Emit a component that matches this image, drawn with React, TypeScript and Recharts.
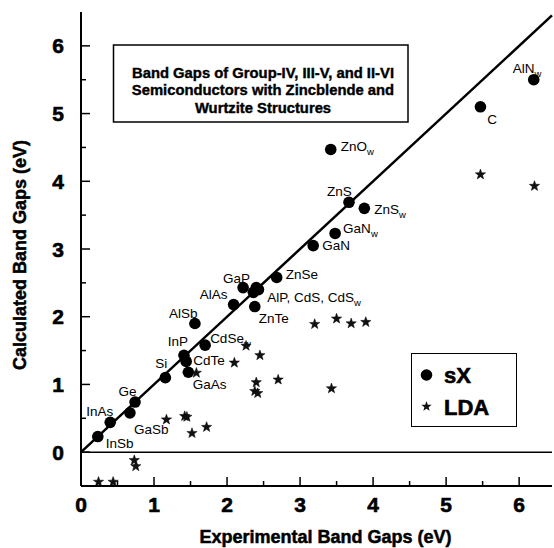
import { ScatterChart, Scatter, XAxis, YAxis, ReferenceLine, Legend, Customized } from 'recharts'

const FONT = '"Liberation Sans", Arial, Helvetica, sans-serif'

// sX (screened exchange) results
const SX_NAMES = [
  'InSb', 'InAs', 'GaSb', 'Ge', 'Si', 'InP', 'CdTe', 'GaAs', 'AlSb', 'CdSe_w', 'AlAs', 'GaP',
  'AlP', 'CdS', 'CdS_w', 'ZnTe', 'ZnSe', 'GaN', 'GaN_w', 'ZnS', 'ZnS_w', 'ZnO_w', 'C', 'AlN_w',
]
const SX_EXP = [
  0.23, 0.4, 0.67, 0.74, 1.155, 1.41, 1.44, 1.47, 1.56, 1.7, 2.09, 2.22,
  2.36, 2.4, 2.43, 2.38, 2.68, 3.18, 3.48, 3.67, 3.88, 3.42, 5.47, 6.2,
]
const SX_CALC = [
  0.23, 0.44, 0.58, 0.74, 1.1, 1.43, 1.34, 1.18, 1.9, 1.58, 2.18, 2.43,
  2.36, 2.43, 2.4, 2.15, 2.58, 3.05, 3.23, 3.69, 3.6, 4.47, 5.1, 5.5,
]

// LDA results
const LDA_EXP = [
  0.24, 0.44, 0.73, 0.75, 1.17, 1.42, 1.45, 1.52, 1.72, 1.58, 2.1, 2.26,
  2.45, 2.4, 2.38, 2.42, 2.7, 3.43, 3.2, 3.5, 3.7, 3.9, 5.47, 6.21,
]
const LDA_CALC = [
  -0.44, -0.44, -0.12, -0.21, 0.48, 0.53, 0.52, 0.28, 0.37, 1.17, 1.32, 1.57,
  1.43, 1.03, 0.9, 0.87, 1.07, 0.94, 1.89, 1.97, 1.9, 1.92, 4.1, 3.93,
]

const X_TICKS = [0, 0.5, 1, 1.5, 2, 2.5, 3, 3.5, 4, 4.5, 5, 5.5, 6]
const Y_TICKS = [0, 0.5, 1, 1.5, 2, 2.5, 3, 3.5, 4, 4.5, 5, 5.5, 6]

const TITLE_LINES = [
  'Band Gaps of Group-IV, III-V, and II-VI',
  'Semiconductors with Zincblende and',
  'Wurtzite Structures',
]

const sxData = SX_NAMES.map((name, i) => ({ name, x: SX_EXP[i], y: SX_CALC[i] }))
const ldaData = LDA_EXP.map((x, i) => ({ x, y: LDA_CALC[i] }))

// where each point label sits relative to its marker
const LABELS: Record<string, { dx: number; dy: number; anchor: string; text?: string }> = {
  InSb: { dx: 8, dy: 7, anchor: 'start' },
  InAs: { dx: 3, dy: -11, anchor: 'end' },
  GaSb: { dx: 4, dy: 16, anchor: 'start' },
  Ge: { dx: -7.5, dy: -11, anchor: 'middle' },
  Si: { dx: -4, dy: -14, anchor: 'middle' },
  InP: { dx: -6, dy: -14, anchor: 'middle' },
  CdTe: { dx: 7, dy: -1, anchor: 'start' },
  GaAs: { dx: 4.5, dy: 12, anchor: 'start' },
  AlSb: { dx: 2.5, dy: -10, anchor: 'end' },
  CdSe_w: { dx: 5, dy: -7, anchor: 'start' },
  AlAs: { dx: -6, dy: -10, anchor: 'end' },
  GaP: { dx: -6.6, dy: -9, anchor: 'middle' },
  CdS: { dx: 11, dy: 9.5, anchor: 'start', text: 'AlP, CdS, CdS_w' },
  ZnTe: { dx: 4, dy: 12, anchor: 'start' },
  ZnSe: { dx: 9, dy: -3, anchor: 'start' },
  GaN: { dx: 9, dy: 0, anchor: 'start' },
  GaN_w: { dx: 8, dy: -5, anchor: 'start' },
  ZnS: { dx: -9.5, dy: -11, anchor: 'middle' },
  ZnS_w: { dx: 10, dy: 0.5, anchor: 'start' },
  ZnO_w: { dx: 10, dy: -3, anchor: 'start' },
  C: { dx: 6.7, dy: 12, anchor: 'start' },
  AlN_w: { dx: 7.7, dy: -11.7, anchor: 'end' },
}

function starPoints(cx: number, cy: number, R: number, r: number) {
  const pts: string[] = []
  for (let i = 0; i < 10; i++) {
    const rad = i % 2 === 0 ? R : r
    const a = -Math.PI / 2 + (i * Math.PI) / 5
    pts.push(`${cx + rad * Math.cos(a)},${cy + rad * Math.sin(a)}`)
  }
  return pts.join(' ')
}

// heavy bold look of the original print
const heavy = { fontWeight: 'bold', stroke: '#000', strokeWidth: 0.6 } as const

const SxShape = (props: any) => {
  const { cx, cy, payload } = props
  const lab = LABELS[payload.name]
  let label = null
  if (lab) {
    const [main, sub] = (lab.text ?? payload.name).split('_')
    label = (
      <text
        x={cx + lab.dx}
        y={cy + lab.dy + 4.8}
        textAnchor={lab.anchor as any}
        fontSize={13.5}
        fontFamily={FONT}
        fill="#000"
      >
        {main}
        {sub && (
          <tspan dy={4} fontSize={9.5}>
            {sub}
          </tspan>
        )}
      </text>
    )
  }
  return (
    <g>
      <circle cx={cx} cy={cy} r={5.8} fill="#000" />
      {label}
    </g>
  )
}

const StarShape = (props: any) => {
  const { cx, cy } = props
  return <polygon points={starPoints(cx, cy, 5.4, 2.2)} fill="#111" stroke="#000" strokeWidth={0.5} />
}

const tickLen = (v: number) => (Number.isInteger(v) ? 9 : 5)

const BottomTick = ({ x, y, payload }: any) => {
  const v = payload.value
  return (
    <g>
      <line x1={x} x2={x} y1={y} y2={y - tickLen(v)} stroke="#000" strokeWidth={1.5} />
      {Number.isInteger(v) && (
        <text x={x} y={y + 26} textAnchor="middle" fontSize={21} fontFamily={FONT} {...heavy}>
          {v}
        </text>
      )}
    </g>
  )
}

const LeftTick = ({ x, y, payload }: any) => {
  const v = payload.value
  return (
    <g>
      <line x1={x} x2={x + tickLen(v)} y1={y} y2={y} stroke="#000" strokeWidth={1.5} />
      {Number.isInteger(v) && (
        <text x={x - 17} y={y + 7.5} textAnchor="end" fontSize={21} fontFamily={FONT} {...heavy}>
          {v}
        </text>
      )}
    </g>
  )
}

const TopTick = ({ x, y, payload }: any) => (
  <line x1={x} x2={x} y1={y} y2={y + tickLen(payload.value)} stroke="#000" strokeWidth={1.5} />
)

const RightTick = ({ x, y, payload }: any) => (
  <line x1={x} x2={x - tickLen(payload.value)} y1={y} y2={y} stroke="#000" strokeWidth={1.5} />
)

const Annotations = () => (
  <g fontFamily={FONT} fill="#000">
    <rect x={113.5} y={45} width={294.5} height={77} fill="#fff" stroke="#000" strokeWidth={1.5} />
    {TITLE_LINES.map((t, i) => (
      <text key={t} x={263} y={78 + i * 17.3} textAnchor="middle" fontSize={14.8} {...heavy} strokeWidth={0.4}>
        {t}
      </text>
    ))}
    <text x={325.5} y={542.5} textAnchor="middle" fontSize={18} {...heavy} strokeWidth={0.5}>
      Experimental Band Gaps (eV)
    </text>
    <text
      x={26}
      y={255}
      transform="rotate(-90, 26, 255)"
      textAnchor="middle"
      fontSize={18}
      {...heavy}
      strokeWidth={0.5}
    >
      Calculated Band Gaps (eV)
    </text>
  </g>
)

const LegendBox = ({ payload }: any) => (
  <div style={{ width: 106, height: 74, border: '1.5px solid #000', background: '#fff', boxSizing: 'border-box' }}>
    <svg width={103} height={71} style={{ display: 'block' }}>
      {(payload || []).map((entry: any) => {
        const isSx = entry.value === 'sX'
        const cy = isSx ? 21 : 52.5
        return (
          <g key={entry.value}>
            {isSx ? (
              <circle cx={14.5} cy={cy} r={5.8} fill="#000" />
            ) : (
              <polygon points={starPoints(14.5, cy, 5.4, 2.2)} fill="#111" />
            )}
            <text x={32} y={cy + 8} fontSize={22} fontFamily={FONT} {...heavy}>
              {entry.value}
            </text>
          </g>
        )
      })}
    </svg>
  </div>
)

export default function App() {
  return (
    <div style={{ position: 'absolute', left: 0, top: 0, width: 554, height: 548, background: '#fff' }}>
      <ScatterChart width={554} height={548} margin={{ top: 12, right: 2, bottom: 0, left: 0 }}>
        <XAxis
          type="number"
          dataKey="x"
          domain={[0, 6.45]}
          allowDataOverflow
          ticks={X_TICKS}
          interval={0}
          height={62}
          tickSize={0}
          tickMargin={0}
          tickLine={false}
          tick={<BottomTick />}
          axisLine={{ stroke: '#000', strokeWidth: 2 }}
        />
        <XAxis
          xAxisId="top"
          orientation="top"
          type="number"
          domain={[0, 6.45]}
          allowDataOverflow
          ticks={X_TICKS}
          interval={0}
          height={0}
          tickSize={0}
          tickMargin={0}
          tickLine={false}
          tick={<TopTick />}
          axisLine={{ stroke: '#000', strokeWidth: 2 }}
        />
        <YAxis
          type="number"
          dataKey="y"
          domain={[-0.5, 6.5]}
          allowDataOverflow
          ticks={Y_TICKS}
          interval={0}
          width={81}
          tickSize={0}
          tickMargin={0}
          tickLine={false}
          tick={<LeftTick />}
          axisLine={{ stroke: '#000', strokeWidth: 2 }}
        />
        <YAxis
          yAxisId="right"
          orientation="right"
          type="number"
          domain={[-0.5, 6.5]}
          allowDataOverflow
          ticks={Y_TICKS}
          interval={0}
          width={0}
          tickSize={0}
          tickMargin={0}
          tickLine={false}
          tick={<RightTick />}
          axisLine={{ stroke: '#000', strokeWidth: 2 }}
        />
        <ReferenceLine y={0} stroke="#000" strokeWidth={1.5} />
        <ReferenceLine
          segment={[
            { x: 0, y: 0 },
            { x: 6.45, y: 6.45 },
          ]}
          stroke="#000"
          strokeWidth={2.5}
        />
        <Customized component={Annotations} />
        <Scatter name="sX" data={sxData} shape={SxShape} isAnimationActive={false} />
        <Scatter name="LDA" data={ldaData} shape={StarShape} isAnimationActive={false} />
        <Legend
          layout="horizontal"
          verticalAlign="middle"
          align="center"
          width={106}
          height={74}
          wrapperStyle={{ left: 411, top: 353 }}
          content={<LegendBox />}
        />
      </ScatterChart>
    </div>
  )
}
